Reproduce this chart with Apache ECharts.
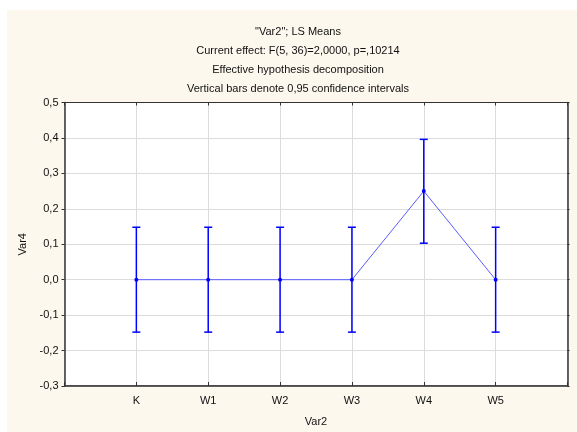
<!DOCTYPE html>
<html><head><meta charset="utf-8">
<script src="https://cdn.jsdelivr.net/npm/echarts@6/dist/echarts.min.js"></script>
<style>html,body{margin:0;padding:0;background:#fff}#c{width:577px;height:432px}</style>
</head><body><div id="c"></div>
<script>
const categories = ['K', 'W1', 'W2', 'W3', 'W4', 'W5'];
const means = [0, 0, 0, 0, 0.25, 0];
const lower = [-0.148, -0.148, -0.148, -0.148, 0.103, -0.148];
const upper = [0.148, 0.148, 0.148, 0.148, 0.396, 0.148];
const titleLines = ['"Var2"; LS Means', 'Current effect: F(5, 36)=2,0000, p=,10214', 'Effective hypothesis decomposition', 'Vertical bars denote 0,95 confidence intervals'];
const xName = 'Var2';
const yName = 'Var4';

const chart = echarts.init(document.getElementById('c'), null, {renderer: 'canvas'});
const font = 'Liberation Sans, Arial, sans-serif';
const pts = means.map((v, i) => [i + 1, v]);
const errs = means.map((v, i) => [i + 1, lower[i], upper[i]]);
const fmtY = v => (Math.round(v * 10) / 10).toFixed(1).replace('.', ',');
chart.setOption({
  backgroundColor: '#ffffff',
  animation: false,
  graphic: [{type: 'rect', z: -10, shape: {x: 7, y: 10, width: 570, height: 422}, style: {fill: '#fdf8ee'}}],
  title: {
    text: titleLines.join('\n'), left: 293, top: 17, textAlign: 'center',
    textStyle: {fontFamily: font, fontSize: 11, fontWeight: 'normal', color: '#111', lineHeight: 19}
  },
  grid: {left: 64.5, top: 102.5, right: 9.5, bottom: 45, show: true, backgroundColor: '#fff', borderColor: '#333', borderWidth: 1},
  xAxis: [{
    type: 'value', min: 0, max: 7, interval: 1, position: 'bottom',
    name: xName, nameLocation: 'middle', nameGap: 30,
    nameTextStyle: {fontFamily: font, fontSize: 11, color: '#111'},
    axisLine: {show: true, onZero: false, lineStyle: {color: '#333', width: 1.5}},
    axisTick: {show: true, inside: true, length: 4, lineStyle: {color: '#333'}},
    axisLabel: {fontFamily: font, fontSize: 11, color: '#111', margin: 9, formatter: v => categories[v - 1] || ''},
    splitLine: {show: true, lineStyle: {color: '#dcdcdc', width: 1}}
  }, {
    type: 'value', min: 0, max: 7, interval: 1, position: 'top',
    axisLine: {show: true, onZero: false, lineStyle: {color: '#333'}},
    axisTick: {show: true, inside: true, length: 3, lineStyle: {color: '#333'}},
    axisLabel: {show: false}, splitLine: {show: false}
  }],
  yAxis: [{
    type: 'value', min: -0.3, max: 0.5, interval: 0.1,
    name: yName, nameLocation: 'middle', nameGap: 36,
    nameTextStyle: {fontFamily: font, fontSize: 11, color: '#111'},
    axisLine: {show: true, onZero: false, lineStyle: {color: '#333', width: 1.5}},
    axisTick: {show: true, length: 3, lineStyle: {color: '#333'}},
    axisLabel: {fontFamily: font, fontSize: 11, color: '#111', margin: 6, formatter: fmtY},
    splitLine: {show: true, lineStyle: {color: '#dcdcdc', width: 1}}
  }, {
    type: 'value', min: -0.3, max: 0.5, interval: 0.1, position: 'right',
    axisLine: {show: true, onZero: false, lineStyle: {color: '#333', width: 1.5}},
    axisTick: {show: true, length: 2, lineStyle: {color: '#333'}},
    axisLabel: {show: false}, splitLine: {show: false}
  }],
  series: [{
    type: 'line', data: pts, xAxisIndex: 0, yAxisIndex: 0,
    lineStyle: {color: '#5a5aff', width: 1},
    symbol: 'circle', symbolSize: 4, itemStyle: {color: '#0000ff'}, z: 3
  }, {
    type: 'custom', data: errs, xAxisIndex: 0, yAxisIndex: 0, z: 2,
    renderItem: function (params, api) {
      const x = api.value(0);
      const lo = api.coord([x, api.value(1)]);
      const hi = api.coord([x, api.value(2)]);
      const hw = 4;
      const st = {stroke: '#0000ff', lineWidth: 1.5};
      return {type: 'group', children: [
        {type: 'line', shape: {x1: lo[0], y1: lo[1], x2: hi[0], y2: hi[1]}, style: st},
        {type: 'line', shape: {x1: lo[0] - hw, y1: lo[1], x2: lo[0] + hw, y2: lo[1]}, style: st},
        {type: 'line', shape: {x1: hi[0] - hw, y1: hi[1], x2: hi[0] + hw, y2: hi[1]}, style: st}
      ]};
    }
  }]
});
</script></body></html>
